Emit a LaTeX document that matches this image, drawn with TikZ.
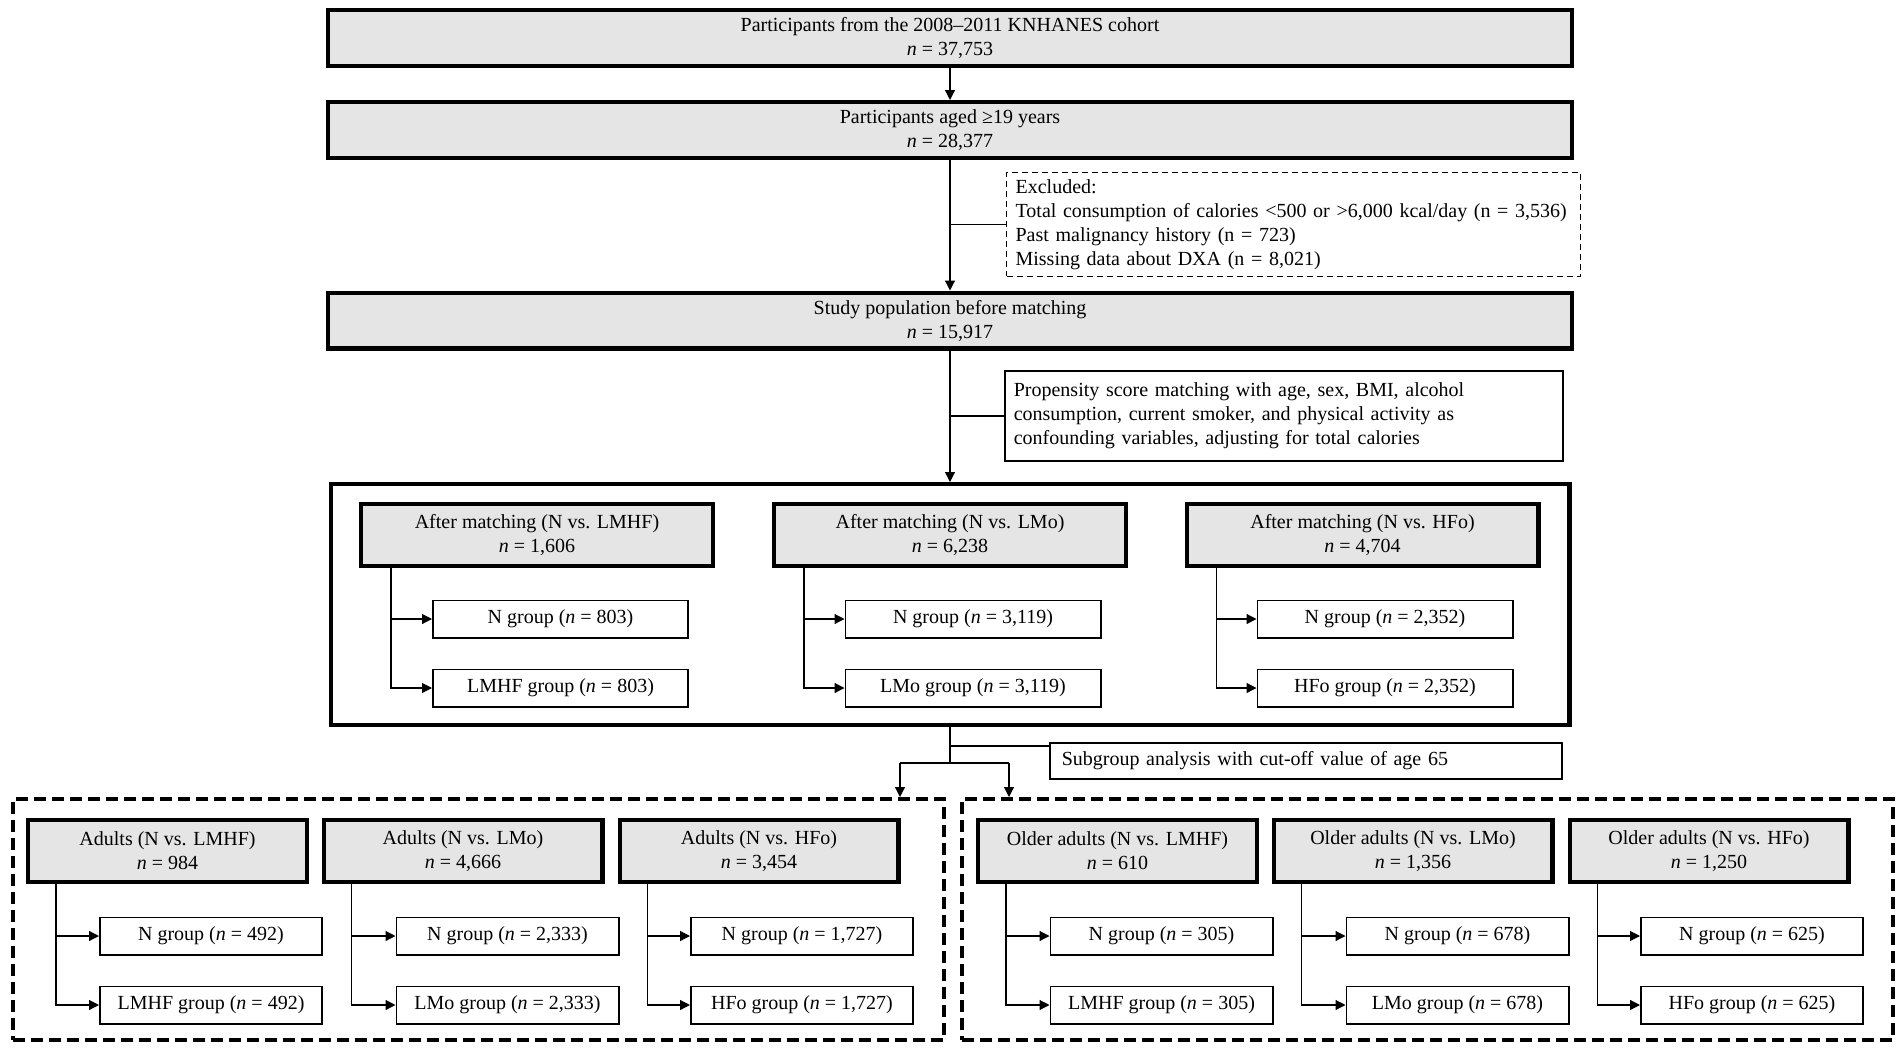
\documentclass[tikz,border=0pt]{standalone}
\usepackage{fontspec}
\setmainfont{Liberation Serif}
\usetikzlibrary{arrows.meta}
\usetikzlibrary{positioning}
\definecolor{mgray}{rgb}{0.9, 0.9, 0.9}
\tikzset{arr/.style = {-{Triangle[length=5pt,width=5pt]}, line width=0.6pt}}
\tikzset{mainbox/.style = {draw, line width=2.2pt, fill=mgray, align=center, inner sep=1pt}}
\tikzset{grpbox/.style = {draw, line width=0.8pt, inner sep=1pt, minimum height=18.7pt}}
\tikzset{notebox/.style = {draw, line width=0.8pt, align=left, inner xsep=4.5pt, inner ysep=2pt}}
\tikzset{frame/.style = {draw, line width=2pt, dash pattern=on 6pt off 3pt,
                         minimum width=465.5pt, minimum height=120.5pt}}

\begin{document}
\begin{tikzpicture}[x=0.5pt, y=-0.5pt]
    \useasboundingbox (0, 0) rectangle (1902, 1050);

    \node [mainbox, minimum width=622pt, minimum height=27.8pt] (cohort) at (950, 38) {Participants from the 2008–2011 KNHANES cohort\\ \textit{n} = 37,753};
    \node [mainbox, minimum width=622pt, minimum height=27.8pt] (aged) at (950, 130) {Participants aged ≥19 years\\ \textit{n} = 28,377};
    \node [notebox, dashed, line width=0.6pt, dash pattern=on 3pt off 2pt, text width=278pt, minimum height=51.9pt, anchor=north west] (excl) at (1006, 172)
        {Excluded:\\ Total consumption of calories <500 or >6,000 kcal/day (n = 3,536)\\ Past malignancy history (n = 723)\\ Missing data about DXA (n = 8,021)};
    \node [mainbox, minimum width=622pt, minimum height=27.8pt] (study) at (950, 320.5) {Study population before matching\\ \textit{n} = 15,917};
    \node [notebox, text width=270pt, minimum height=45.2pt, anchor=north west] (psm) at (1004, 370)
        {Propensity score matching with age, sex, BMI, alcohol\\ consumption, current smoker, and physical activity as\\ confounding variables, adjusting for total calories};

    \node [draw, line width=2.2pt, minimum width=619.3pt, minimum height=120.3pt] (matched) at (950, 604.5) {};
    \node [mainbox, minimum width=175.8pt, minimum height=30.8pt] (hm1) at (537, 535) {After matching (N vs. LMHF)\\ \textit{n} = 1,606};
    \node [mainbox, minimum width=175.8pt, minimum height=30.8pt] (hm2) at (950, 535) {After matching (N vs. LMo)\\ \textit{n} = 6,238};
    \node [mainbox, minimum width=175.8pt, minimum height=30.8pt] (hm3) at (1362.5, 535) {After matching (N vs. HFo)\\ \textit{n} = 4,704};
    \node [grpbox, minimum width=127.7pt] (nm1) at (560.5, 619) {N group (\textit{n} = 803)};
    \node [grpbox, minimum width=127.7pt] (gm1) at (560.5, 688) {LMHF group (\textit{n} = 803)};
    \node [grpbox, minimum width=127.7pt] (nm2) at (973, 619) {N group (\textit{n} = 3,119)};
    \node [grpbox, minimum width=127.7pt] (gm2) at (973, 688) {LMo group (\textit{n} = 3,119)};
    \node [grpbox, minimum width=127.7pt] (nm3) at (1385, 619) {N group (\textit{n} = 2,352)};
    \node [grpbox, minimum width=127.7pt] (gm3) at (1385, 688) {HFo group (\textit{n} = 2,352)};

    \node [notebox, text width=244pt, inner xsep=6pt, minimum height=18.2pt, anchor=west] (sub) at (1049, 761) {Subgroup analysis with cut-off value of age 65};

    \node [frame] (adult) at (478.5, 919.5) {};
    \node [frame] (older) at (1427.5, 919.5) {};

    \node [mainbox, minimum width=139.3pt, minimum height=30.8pt] (ha1) at (167.5, 851) {Adults (N vs. LMHF)\\ \textit{n} = 984};
    \node [mainbox, minimum width=139.3pt, minimum height=30.8pt] (ha2) at (463, 851) {Adults (N vs. LMo)\\ \textit{n} = 4,666};
    \node [mainbox, minimum width=139.3pt, minimum height=30.8pt] (ha3) at (759, 851) {Adults (N vs. HFo)\\ \textit{n} = 3,454};
    \node [grpbox, minimum width=111.2pt] (na1) at (211, 936) {N group (\textit{n} = 492)};
    \node [grpbox, minimum width=111.2pt] (ga1) at (211, 1005) {LMHF group (\textit{n} = 492)};
    \node [grpbox, minimum width=111.2pt] (na2) at (507.5, 936) {N group (\textit{n} = 2,333)};
    \node [grpbox, minimum width=111.2pt] (ga2) at (507.5, 1005) {LMo group (\textit{n} = 2,333)};
    \node [grpbox, minimum width=111.2pt] (na3) at (802, 936) {N group (\textit{n} = 1,727)};
    \node [grpbox, minimum width=111.2pt] (ga3) at (802, 1005) {HFo group (\textit{n} = 1,727)};

    \node [mainbox, minimum width=139.3pt, minimum height=30.8pt] (ho1) at (1117.5, 851) {Older adults (N vs. LMHF)\\ \textit{n} = 610};
    \node [mainbox, minimum width=139.3pt, minimum height=30.8pt] (ho2) at (1413, 851) {Older adults (N vs. LMo)\\ \textit{n} = 1,356};
    \node [mainbox, minimum width=139.3pt, minimum height=30.8pt] (ho3) at (1709, 851) {Older adults (N vs. HFo)\\ \textit{n} = 1,250};
    \node [grpbox, minimum width=111.2pt] (no1) at (1161.5, 936) {N group (\textit{n} = 305)};
    \node [grpbox, minimum width=111.2pt] (go1) at (1161.5, 1005) {LMHF group (\textit{n} = 305)};
    \node [grpbox, minimum width=111.2pt] (no2) at (1457.5, 936) {N group (\textit{n} = 678)};
    \node [grpbox, minimum width=111.2pt] (go2) at (1457.5, 1005) {LMo group (\textit{n} = 678)};
    \node [grpbox, minimum width=111.2pt] (no3) at (1752, 936) {N group (\textit{n} = 625)};
    \node [grpbox, minimum width=111.2pt] (go3) at (1752, 1005) {HFo group (\textit{n} = 625)};

    % main flow
    \draw [arr] (cohort.south) -- (aged.north);
    \draw [arr] (aged.south) -- (study.north);
    \draw [line width=0.6pt] (aged.south |- excl.west) -- (excl.west);
    \draw [arr] (study.south) -- (matched.north);
    \draw [line width=0.6pt] (study.south |- psm.west) -- (psm.west);

    % subgroup split
    \coordinate (sb) at (950, 746);
    \coordinate (split) at (950, 763);
    \coordinate (sl) at (900, 763);
    \coordinate (sr) at (1009, 763);
    \draw [line width=0.6pt] (matched.south) -- (split);
    \draw [line width=0.6pt] (sb) -- (sb -| sub.west);
    \draw [line width=0.6pt] (sl) -- (sr);
    \draw [arr] (sl) -- (sl |- adult.north);
    \draw [arr] (sr) -- (sr |- older.north);

    % elbows
    \draw [arr] ([xshift=16pt]hm1.south west) |- (gm1.west);
    \draw [arr] ([xshift=16pt]hm1.south west |- nm1.west) -- (nm1.west);
    \draw [arr] ([xshift=16pt]hm2.south west) |- (gm2.west);
    \draw [arr] ([xshift=16pt]hm2.south west |- nm2.west) -- (nm2.west);
    \draw [arr] ([xshift=16pt]hm3.south west) |- (gm3.west);
    \draw [arr] ([xshift=16pt]hm3.south west |- nm3.west) -- (nm3.west);

    \draw [arr] ([xshift=15pt]ha1.south west) |- (ga1.west);
    \draw [arr] ([xshift=15pt]ha1.south west |- na1.west) -- (na1.west);
    \draw [arr] ([xshift=15pt]ha2.south west) |- (ga2.west);
    \draw [arr] ([xshift=15pt]ha2.south west |- na2.west) -- (na2.west);
    \draw [arr] ([xshift=15pt]ha3.south west) |- (ga3.west);
    \draw [arr] ([xshift=15pt]ha3.south west |- na3.west) -- (na3.west);

    \draw [arr] ([xshift=15pt]ho1.south west) |- (go1.west);
    \draw [arr] ([xshift=15pt]ho1.south west |- no1.west) -- (no1.west);
    \draw [arr] ([xshift=15pt]ho2.south west) |- (go2.west);
    \draw [arr] ([xshift=15pt]ho2.south west |- no2.west) -- (no2.west);
    \draw [arr] ([xshift=15pt]ho3.south west) |- (go3.west);
    \draw [arr] ([xshift=15pt]ho3.south west |- no3.west) -- (no3.west);
\end{tikzpicture}
\end{document}
